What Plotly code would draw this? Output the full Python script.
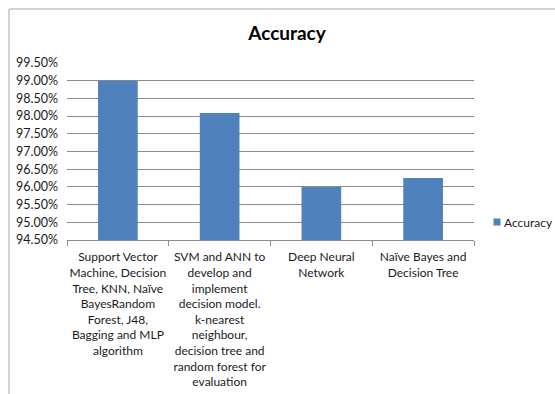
import plotly.graph_objects as go

# Classifier approaches and their reported accuracy
categories = [
    "Support Vector Machine, Decision Tree, KNN, Naïve BayesRandom Forest, J48, Bagging and MLP algorithm",
    "SVM and ANN to develop and implement decision model. k-nearest neighbour, decision tree and random forest for evaluation",
    "Deep Neural Network",
    "Naïve Bayes and Decision Tree",
]
tick_labels = [
    "Support Vector<br>Machine, Decision<br>Tree, KNN, Naïve<br>BayesRandom<br>Forest, J48,<br>Bagging and MLP<br>algorithm",
    "SVM and ANN to<br>develop and<br>implement<br>decision model.<br>k-nearest<br>neighbour,<br>decision tree and<br>random forest for<br>evaluation",
    "Deep Neural<br>Network",
    "Naïve Bayes and<br>Decision Tree",
]
series_name = "Accuracy"
accuracy = [0.9900, 0.9809, 0.9600, 0.9625]
bar_color = "#4F81BD"

W, H = 555, 394
L, R, T, B = 67, 81, 63, 154
pw, ph = W - L - R, H - T - B

def px_x(p):
    return (p - L) / pw

def px_y(p):
    return (H - B - p) / ph

font = "Lato, Carlito, 'Open Sans', sans-serif"

fig = go.Figure(
    go.Bar(
        x=categories,
        y=accuracy,
        name=series_name,
        marker=dict(color=bar_color, line=dict(width=0)),
        width=0.39,
        showlegend=False,
    )
)

# compact legend key: small swatch followed by the series name
legend_cx, legend_cy = 497, 222
fig.add_shape(
    type="rect",
    xref="paper",
    yref="paper",
    x0=px_x(legend_cx - 3.5),
    x1=px_x(legend_cx + 3.5),
    y0=px_y(legend_cy + 3.5),
    y1=px_y(legend_cy - 3.5),
    fillcolor=bar_color,
    line=dict(width=0),
)
fig.add_annotation(
    text=series_name,
    xref="paper",
    yref="paper",
    x=px_x(legend_cx + 5),
    y=px_y(legend_cy),
    xanchor="left",
    yanchor="middle",
    showarrow=False,
    font=dict(size=12, color="#1a1a1a", family=font),
)

fig.update_layout(
    width=W,
    height=H,
    margin=dict(l=L, r=R, t=T, b=B, autoexpand=False),
    paper_bgcolor="white",
    plot_bgcolor="white",
    font=dict(family=font, size=12, color="#1a1a1a"),
    title=dict(
        text="<b>Accuracy</b>",
        x=287 / W,
        xanchor="center",
        y=1 - 33 / H,
        yanchor="middle",
        font=dict(size=19, color="#000000", family=font),
    ),
)

# chart-area frame (top and left edges visible)
fig.add_shape(
    type="rect",
    xref="paper",
    yref="paper",
    x0=px_x(9),
    x1=px_x(W + 20),
    y0=px_y(H + 20),
    y1=px_y(9),
    line=dict(color="#a6a6a6", width=1),
    fillcolor="rgba(0,0,0,0)",
    layer="below",
)

fig.update_xaxes(
    type="category",
    tickmode="array",
    tickvals=categories,
    ticktext=tick_labels,
    tickangle=0,
    showline=True,
    linecolor="#8c8c8c",
    linewidth=1,
    ticks="outside",
    tickson="boundaries",
    ticklen=5,
    tickcolor="#8c8c8c",
    showgrid=False,
    automargin=False,
    ticklabelstandoff=6,
    tickfont=dict(size=12, color="#1a1a1a"),
)

fig.update_yaxes(
    range=[0.945, 0.995],
    dtick=0.005,
    tick0=0.945,
    tickformat=".2%",
    showgrid=True,
    gridcolor="#8c8c8c",
    gridwidth=1,
    showline=False,
    zeroline=False,
    ticks="",
    automargin=False,
    ticklabelstandoff=8,
    tickfont=dict(size=12.5, color="#1a1a1a"),
)

fig.write_html("out.html")
